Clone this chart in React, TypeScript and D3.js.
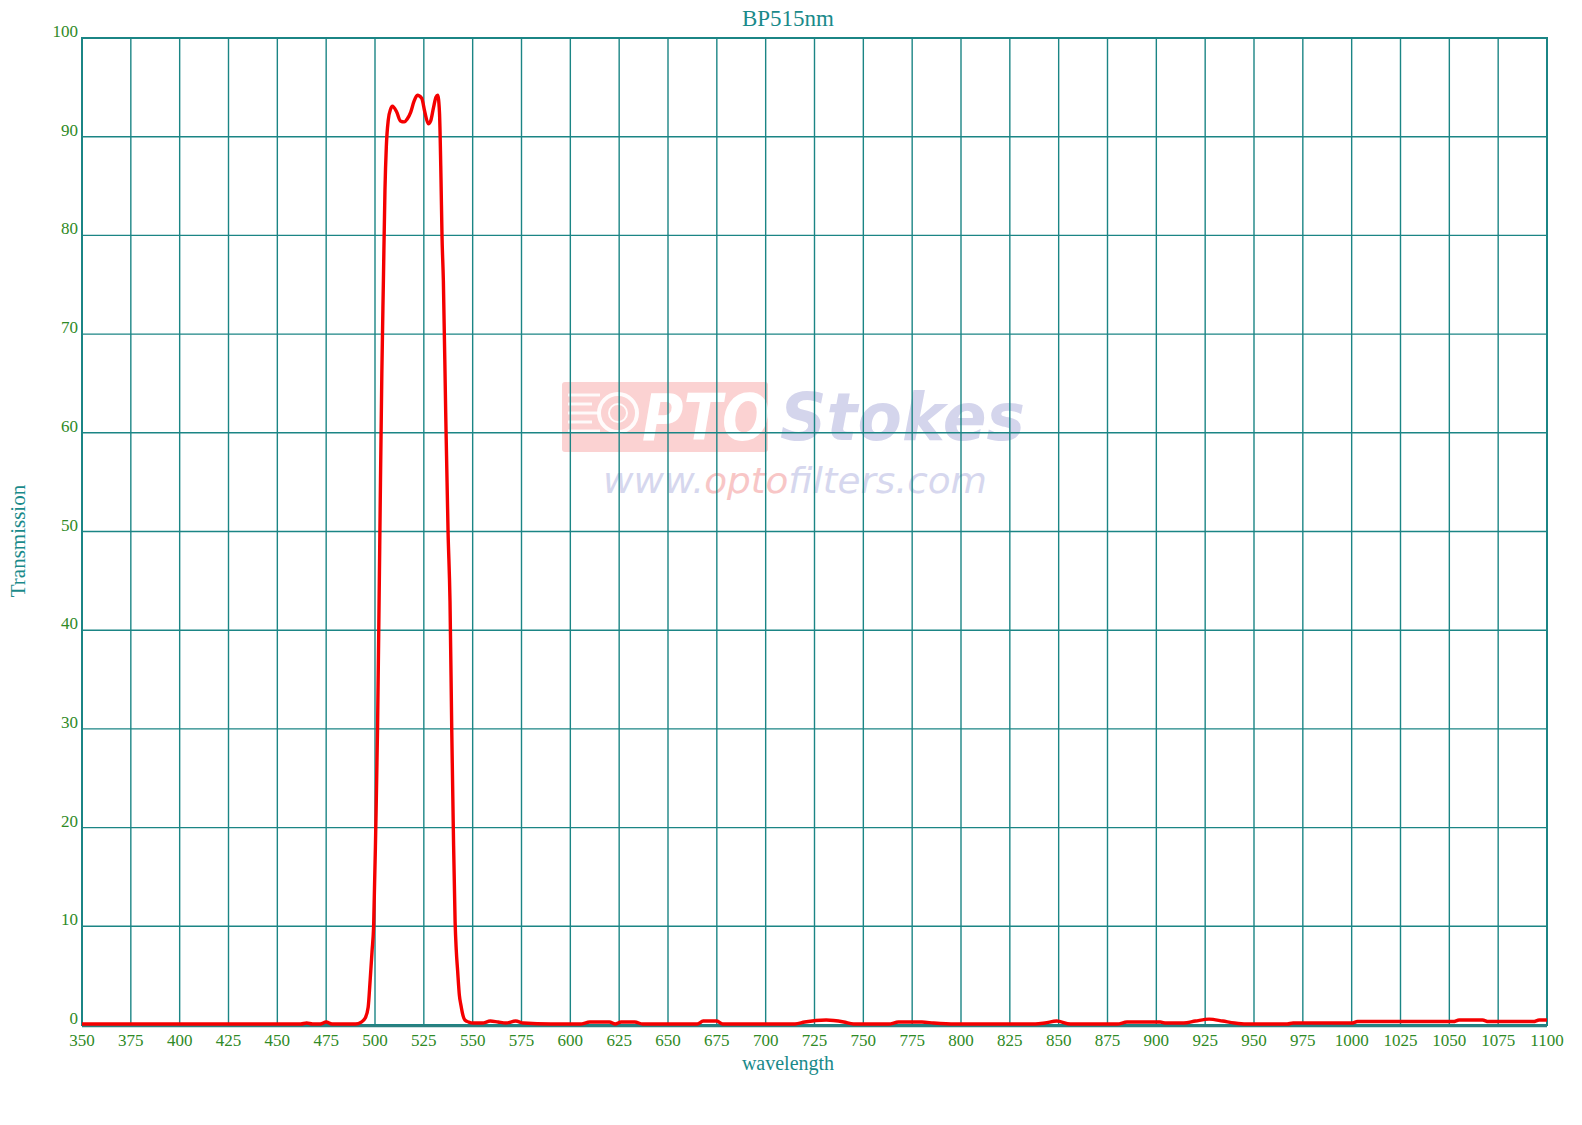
import React from 'react'
import * as d3 from 'd3'

// transmission curve
const wavelength = [
  350, 400, 450, 462, 465, 468, 472, 475, 478, 485, 490, 493, 495, 496.5, 497.5, 498.5, 499.3, 500.4,
  501.3, 502.1, 502.8, 503.5, 504.3, 505.1, 505.8, 506.8, 508, 508.9, 511.1, 513, 515, 516.5, 518.3,
  520, 521.7, 523.9, 525.5, 527.3, 528.5, 530, 531.2, 532.1, 533, 533.8, 534.3, 535, 536.2, 537.4,
  538.4, 539.3, 540.1, 541, 541.6, 542.3, 543.2, 544, 545, 546, 548, 550, 555, 559, 563, 567, 572,
  576, 590, 605, 610, 620, 623, 626, 633, 637, 665, 668, 675, 678, 715, 720, 731, 740, 745, 763, 768,
  780, 786, 797, 838, 843, 849, 856, 880, 885, 902, 905, 914, 920, 927, 934, 940, 946, 967, 970,
  1000, 1003, 1052, 1055, 1067, 1070, 1093, 1096, 1100,
]
const transmission = [
  0.1, 0.1, 0.1, 0.1, 0.2, 0.1, 0.1, 0.3, 0.1, 0.1, 0.1, 0.3, 0.7, 1.8, 4.5, 7.5, 10, 20,
  30, 43, 55, 66, 75.4, 84.6, 89, 91.7, 92.8, 93.1, 92.5, 91.6, 91.5, 91.8, 92.5,
  93.6, 94.2, 93.9, 92.5, 91.3, 91.6, 93, 94, 94.2, 92.5, 85.6, 80, 75.4, 62, 50,
  42.9, 29.8, 19.8, 10.5, 7.6, 5.5, 3, 2, 1, 0.5, 0.3, 0.2, 0.2, 0.4, 0.3, 0.2, 0.4,
  0.2, 0.1, 0.1, 0.3, 0.3, 0.1, 0.3, 0.3, 0.1, 0.1, 0.4, 0.4, 0.1, 0.1, 0.3, 0.5, 0.3, 0.1, 0.1, 0.3,
  0.3, 0.2, 0.1, 0.1, 0.2, 0.4, 0.1, 0.1, 0.3, 0.3, 0.2, 0.2, 0.4, 0.6, 0.4, 0.2, 0.1, 0.1, 0.2,
  0.2, 0.35, 0.35, 0.5, 0.5, 0.35, 0.35, 0.5, 0.5,
]
const xTicks = d3.range(350, 1101, 25)
const yTicks = d3.range(0, 101, 10)

const W = 1582
const H = 1125
const left = 82
const right = 1547
const top = 38
const bottom = 1025

const grid = '#1b8585'
const labelColor = '#2f8a26'
const titleColor = '#1a8a8a'
const serif = '"Times New Roman", "Liberation Serif", serif'

function App() {
  const x = d3.scaleLinear().domain([350, 1100]).range([left, right])
  const y = d3.scaleLinear().domain([0, 100]).range([bottom, top])
  const pts: [number, number][] = wavelength.map((w, i) => [w, transmission[i]])
  const line = d3
    .line<[number, number]>()
    .x((d) => x(d[0]))
    .y((d) => y(d[1]))
    .curve(d3.curveMonotoneX)

  return (
    <svg width={W} height={H} style={{ position: 'absolute', left: 0, top: 0, background: '#fff' }}>
      {/* watermark */}
      <g>
        <rect x={562} y={382} width={206} height={70} rx={3} fill="#f8b4b4" opacity={0.6} />
        <circle cx={618} cy={413} r={19} fill="none" stroke="#fff" strokeWidth={4} opacity={0.9} />
        <circle cx={618} cy={413} r={9} fill="none" stroke="#fff" strokeWidth={2} opacity={0.9} />
        {[395, 404, 413, 422, 431].map((yy, i) => (
          <line key={i} x1={568} x2={600 - (i % 2) * 8} y1={yy} y2={yy} stroke="#fff" strokeWidth={3} opacity={0.9} />
        ))}
        <text x={642} y={440} fontFamily="DejaVu Sans" fontWeight="bold" fontStyle="italic" fontSize={64}
          fill="#fff" textLength={128} lengthAdjust="spacingAndGlyphs">PTO</text>
        <text x={780} y={440} fontFamily="DejaVu Sans" fontWeight="bold" fontStyle="italic" fontSize={66}
          fill="#d4d5ec" textLength={245} lengthAdjust="spacingAndGlyphs">Stokes</text>
        <text x={603} y={493} fontFamily="DejaVu Sans" fontStyle="italic" fontSize={36}
          fill="#d6d7ee" textLength={384} lengthAdjust="spacingAndGlyphs">
          www.<tspan fill="#f8c6c6">opto</tspan>filters.com
        </text>
      </g>

      {/* grid */}
      <g stroke={grid} strokeWidth={1.4}>
        {xTicks.map((t) => (
          <line key={'x' + t} x1={x(t)} x2={x(t)} y1={top} y2={bottom} />
        ))}
        {yTicks.map((t) => (
          <line key={'y' + t} x1={left} x2={right} y1={y(t)} y2={y(t)} />
        ))}
      </g>
      <rect x={left} y={top} width={right - left} height={bottom - top} fill="none" stroke={grid} strokeWidth={2} />
      <line x1={left} x2={right} y1={bottom + 1} y2={bottom + 1} stroke="#2a8080" strokeWidth={2.5} />

      {/* curve */}
      <path d={line(pts) || ''} fill="none" stroke="#f40000" strokeWidth={3.4} strokeLinejoin="round" />

      {/* tick labels */}
      <g fontFamily={serif} fontSize={17} fill={labelColor}>
        {yTicks.map((t) => (
          <text key={'yl' + t} x={left - 4} y={y(t) - 1} textAnchor="end">{t}</text>
        ))}
        {xTicks.map((t) => (
          <text key={'xl' + t} x={x(t)} y={bottom + 21} textAnchor="middle">{t}</text>
        ))}
      </g>

      <text x={788} y={26} textAnchor="middle" fontFamily={serif} fontSize={23} fill={titleColor}>BP515nm</text>
      <text x={788} y={1070} textAnchor="middle" fontFamily={serif} fontSize={20} fill={titleColor}>wavelength</text>
      <text transform="translate(25,541) rotate(-90)" textAnchor="middle" fontFamily={serif} fontSize={21} fill={titleColor}>
        Transmission
      </text>
    </svg>
  )
}

export default App
